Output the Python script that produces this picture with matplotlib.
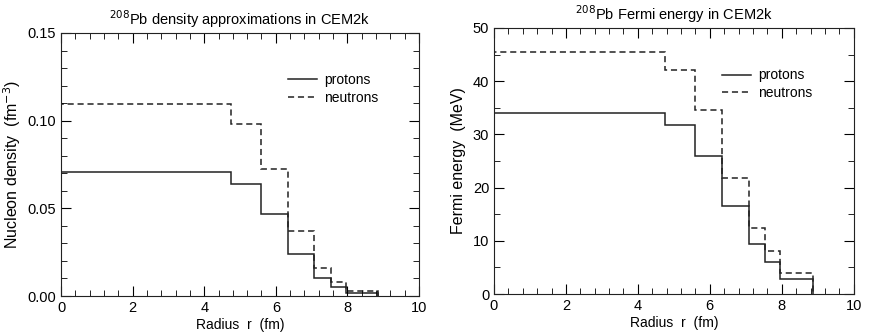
import numpy as np
import matplotlib.pyplot as plt
from matplotlib.ticker import MultipleLocator

plt.rcParams['font.family'] = ['Liberation Sans', 'DejaVu Sans']

# bin edges of the radial zones (fm)
edges = [0, 4.75, 5.59, 6.35, 7.08, 7.54, 7.96, 8.86]

# nucleon density (fm^-3)
dens_protons = [0.0708, 0.064, 0.047, 0.024, 0.0104, 0.005, 0.0015]
dens_neutrons = [0.1097, 0.0983, 0.0725, 0.0372, 0.0161, 0.008, 0.003]

# Fermi energy (MeV)
ef_protons = [34.0, 31.7, 25.9, 16.5, 9.4, 6.0, 2.9]
ef_neutrons = [45.4, 42.1, 34.5, 21.9, 12.5, 8.0, 3.9]

fig = plt.figure(figsize=(8.72, 3.33), dpi=100)
ax1 = fig.add_axes([0.070, 0.111, 0.4105, 0.790])
ax2 = fig.add_axes([0.5665, 0.117, 0.4125, 0.799])

col = "#222222"
for ax, prot, neut in [(ax1, dens_protons, dens_neutrons), (ax2, ef_protons, ef_neutrons)]:
    ax.stairs(prot, edges, color=col, lw=1.1, ls="-", label="protons")
    ax.stairs(neut, edges, color=col, lw=1.1, ls=(0, (4, 2.5)), label="neutrons")
    ax.set_xlim(0, 10)
    ax.xaxis.set_major_locator(MultipleLocator(2))
    ax.xaxis.set_minor_locator(MultipleLocator(0.4))
    ax.tick_params(which="both", direction="in", top=True, right=True, labelsize=10.5)
    ax.tick_params(which="major", length=7)
    ax.tick_params(which="minor", length=4.5)
    ax.set_xlabel("Radius  r  (fm)", fontsize=10, labelpad=2)
    ax.legend(loc="upper left", bbox_to_anchor=(0.6, 0.895), frameon=False,
              fontsize=10, handlelength=2.1, handletextpad=0.5, labelspacing=0.25)
    for s in ax.spines.values():
        s.set_color(col)

ax1.set_ylim(0, 0.15)
ax1.yaxis.set_major_locator(MultipleLocator(0.05))
ax1.yaxis.set_minor_locator(MultipleLocator(0.01))
ax1.yaxis.set_major_formatter(lambda v, p: f"{v:.2f}")
ax1.set_ylabel("Nucleon density  (fm$^{-3}$)", fontsize=11.5, labelpad=3)
ax1.set_title("$^{208}$Pb density approximations in CEM2k", fontsize=10.5, pad=6)

ax2.set_ylim(0, 50)
ax2.yaxis.set_major_locator(MultipleLocator(10))
ax2.yaxis.set_minor_locator(MultipleLocator(5))
ax2.set_ylabel("Fermi energy  (MeV)", fontsize=11.5, labelpad=5)
ax2.set_title("$^{208}$Pb Fermi energy in CEM2k", fontsize=10.5, pad=6)

fig.savefig("out.png", dpi=100, facecolor="white")
